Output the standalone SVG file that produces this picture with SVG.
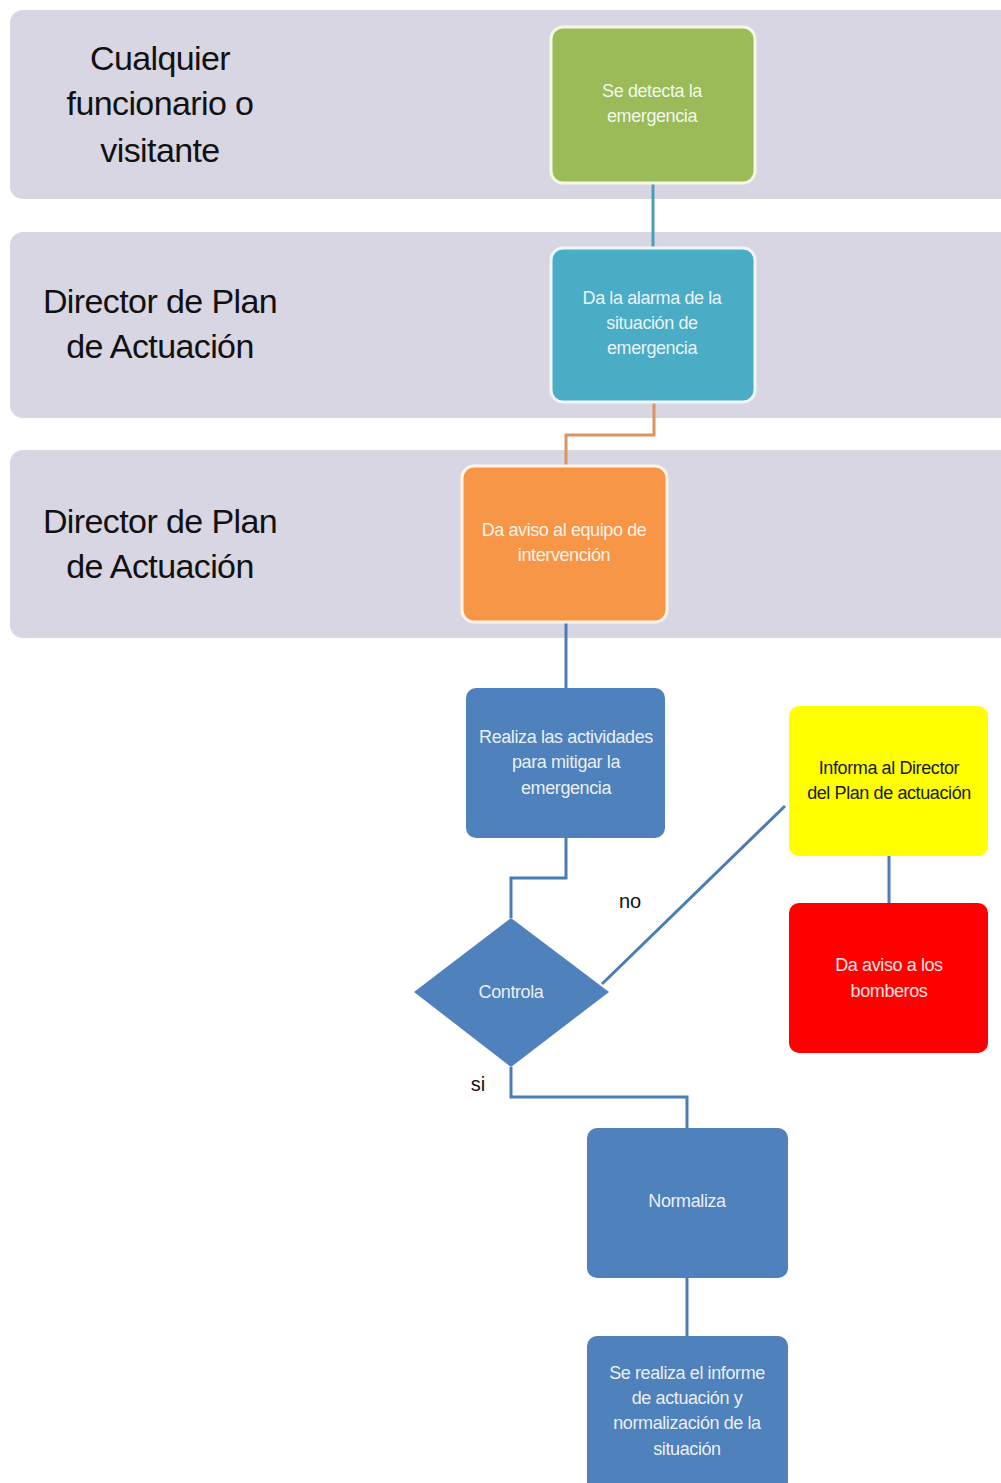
<svg xmlns="http://www.w3.org/2000/svg" width="1001" height="1483" viewBox="0 0 1001 1483">
  <style>
    .lane { fill: #d8d6e2; }
    .laneLabel { font-family: "Liberation Sans", Arial, sans-serif; font-size: 34px; fill: #111; text-anchor: middle; letter-spacing: -0.6px; }
    .box { stroke-width: 3; }
    .txt { font-family: "Liberation Sans", Arial, sans-serif; font-size: 18px; text-anchor: middle; letter-spacing: -0.4px; }
    .light { fill: #ffffff; fill-opacity: 0.9; }
    .dark { fill: #1a1a1a; }
    .lbl { font-family: "Liberation Sans", Arial, sans-serif; font-size: 20px; fill: #111; text-anchor: middle; }
    .wire { fill: none; stroke-width: 3; }
  </style>

  <rect width="1001" height="1483" fill="#ffffff"/>

  <!-- swimlanes -->
  <g id="lanes">
    <g id="lane-visitante">
      <rect class="lane" x="10" y="10" width="1010" height="189" rx="13"/>
      <text class="laneLabel" x="160" y="70">Cualquier</text>
      <text class="laneLabel" x="160" y="115">funcionario o</text>
      <text class="laneLabel" x="160" y="162">visitante</text>
    </g>
    <g id="lane-director-1">
      <rect class="lane" x="10" y="232" width="1010" height="186" rx="13"/>
      <text class="laneLabel" x="160" y="313">Director de Plan</text>
      <text class="laneLabel" x="160" y="358">de Actuación</text>
    </g>
    <g id="lane-director-2">
      <rect class="lane" x="10" y="450" width="1010" height="188" rx="13"/>
      <text class="laneLabel" x="160" y="533">Director de Plan</text>
      <text class="laneLabel" x="160" y="578">de Actuación</text>
    </g>
  </g>

  <!-- connectors -->
  <g id="connectors">
    <path class="wire" stroke="#4d9db8" d="M653 183 V248"/>
    <path class="wire" stroke="#dc9462" d="M654 402 V435 H566 V466"/>
    <path class="wire" stroke="#4a7db4" d="M566 622 V688"/>
    <path class="wire" stroke="#4a7db4" d="M566 838 V878 H511 V918"/>
    <path class="wire" stroke="#4a7db4" d="M602 984 L785 806"/>
    <path class="wire" stroke="#4a7db4" d="M889 856 V903"/>
    <path class="wire" stroke="#4a7db4" d="M511 1067 V1097 H687 V1128"/>
    <path class="wire" stroke="#4a7db4" d="M687 1278 V1336"/>
    <text class="lbl" x="630" y="908">no</text>
    <text class="lbl" x="478" y="1091">si</text>
  </g>

  <!-- nodes -->
  <g id="node-detecta">
    <rect class="box" x="551" y="27" width="204" height="156" rx="12" fill="#9bbb59" stroke="#f4f9e6"/>
    <text class="txt light" x="652" y="97">Se detecta la</text>
    <text class="txt light" x="652" y="122">emergencia</text>
  </g>

  <g id="node-alarma">
    <rect class="box" x="551" y="248" width="204" height="154" rx="12" fill="#4bacc6" stroke="#eef8fb"/>
    <text class="txt light" x="652" y="304">Da la alarma de la</text>
    <text class="txt light" x="652" y="329">situación de</text>
    <text class="txt light" x="652" y="354">emergencia</text>
  </g>

  <g id="node-aviso-equipo">
    <rect class="box" x="462" y="466" width="205" height="156" rx="12" fill="#f79646" stroke="#fff3ea"/>
    <text class="txt light" x="564" y="536">Da aviso al equipo de</text>
    <text class="txt light" x="564" y="561">intervención</text>
  </g>

  <g id="node-mitigar">
    <rect x="466" y="688" width="199" height="150" rx="10" fill="#4f81bd"/>
    <text class="txt light" x="566" y="743">Realiza las actividades</text>
    <text class="txt light" x="566" y="768">para mitigar la</text>
    <text class="txt light" x="566" y="794">emergencia</text>
  </g>

  <g id="node-controla">
    <polygon points="511,918 609,992 511,1067 414,992" fill="#4f81bd"/>
    <text class="txt light" x="511" y="998">Controla</text>
  </g>

  <g id="node-informa">
    <rect x="789" y="706" width="199" height="150" rx="10" fill="#ffff00"/>
    <text class="txt dark" x="889" y="774">Informa al Director</text>
    <text class="txt dark" x="889" y="799">del Plan de actuación</text>
  </g>

  <g id="node-bomberos">
    <rect x="789" y="903" width="199" height="150" rx="10" fill="#ff0000"/>
    <text class="txt" fill="#ffe0e0" x="889" y="971">Da aviso a los</text>
    <text class="txt" fill="#ffe0e0" x="889" y="997">bomberos</text>
  </g>

  <g id="node-normaliza">
    <rect x="587" y="1128" width="201" height="150" rx="10" fill="#4f81bd"/>
    <text class="txt light" x="687" y="1207">Normaliza</text>
  </g>

  <g id="node-informe">
    <rect x="587" y="1336" width="201" height="160" rx="10" fill="#4f81bd"/>
    <text class="txt light" x="687" y="1379">Se realiza el informe</text>
    <text class="txt light" x="687" y="1404">de actuación y</text>
    <text class="txt light" x="687" y="1429">normalización de la</text>
    <text class="txt light" x="687" y="1455">situación</text>
  </g>
</svg>
